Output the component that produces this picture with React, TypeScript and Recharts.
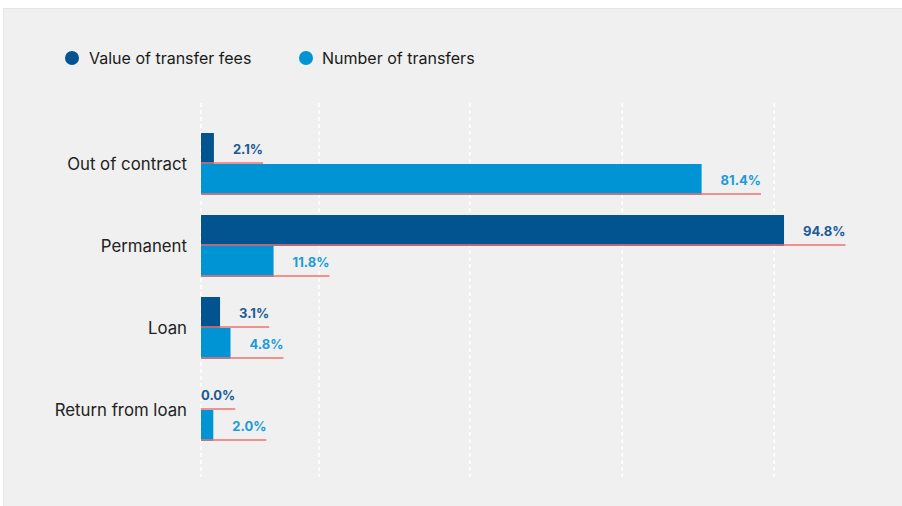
import React from 'react';
import { BarChart, Bar, XAxis, YAxis, CartesianGrid, Legend, LabelList } from 'recharts';

const categories = ['Out of contract', 'Permanent', 'Loan', 'Return from loan'];
const valueOfFees = [2.1, 94.8, 3.1, 0.0];
const numberOfTransfers = [81.4, 11.8, 4.8, 2.0];
const seriesNames = ['Value of transfer fees', 'Number of transfers'];
const gridTicks = [0, 19.2, 43.7, 68.5, 93.2];

const DARK = '#01548f';
const LIGHT = '#0094d4';
const DARK_TEXT = '#1b5a96';
const LIGHT_TEXT = '#1c9bd8';
const UNDERLINE = '#f07272';

const data = categories.map((name, i) => ({
  name,
  fees: valueOfFees[i],
  transfers: numberOfTransfers[i],
}));

const LABEL_FONT = '700 13px Inter';
let ctx: CanvasRenderingContext2D | null = null;
function textWidth(s: string): number {
  if (!ctx) ctx = document.createElement('canvas').getContext('2d');
  if (!ctx) return s.length * 7.5;
  ctx.font = LABEL_FONT;
  return ctx.measureText(s).width;
}

function makeLabel(color: string) {
  return (props: any) => {
    const { x, y, width, height, value } = props;
    const text = `${Number(value).toFixed(1)}%`;
    const w = Number(width) || 0;
    const tx = w > 1 ? x + w + 19 : x;
    const tw = textWidth(text);
    const ly = y + height - 1;
    return (
      <g>
        <line x1={x} x2={tx + tw} y1={ly} y2={ly} stroke={UNDERLINE} strokeWidth={2} strokeOpacity={0.75} />
        <text
          x={tx}
          y={y + height / 2}
          dominantBaseline="central"
          fill={color}
          style={{ font: LABEL_FONT }}
        >
          {text}
        </text>
      </g>
    );
  };
}

const renderLegend = () => {
  const colors = [DARK, LIGHT];
  const circleX = [69, 303];
  const textX = [86, 319];
  return (
    <div style={{ position: 'relative', width: 500, height: 30, fontFamily: 'Inter', fontSize: 16, color: '#1a1a1a' }}>
      {seriesNames.map((n, i) => (
        <React.Fragment key={n}>
          <span
            style={{
              position: 'absolute',
              left: circleX[i] - 7,
              top: 8,
              width: 14,
              height: 14,
              borderRadius: 7,
              background: colors[i],
            }}
          />
          <span style={{ position: 'absolute', left: textX[i], top: 0, lineHeight: '30px', whiteSpace: 'nowrap' }}>{n}</span>
        </React.Fragment>
      ))}
    </div>
  );
};

const gridGenerator = (props: any) => {
  const scale = props?.xAxis?.scale;
  if (typeof scale === 'function') return gridTicks.map((t) => scale(t));
  if (scale && typeof scale.map === 'function') return gridTicks.map((t) => scale.map(t));
  return [];
};

export default function App() {
  return (
    <div
      style={{
        position: 'absolute',
        left: 3,
        top: 8,
        width: 899,
        height: 498,
        background: '#eff0ef',
        boxShadow: 'inset 1px 1px 0 #e4e6e4',
      }}
    >
      <BarChart
        width={899}
        height={498}
        data={data}
        layout="vertical"
        margin={{ top: 65, right: 86, bottom: 29, left: 0 }}
        barGap={0}
        barSize={31}
      >
        <CartesianGrid
          horizontal={false}
          vertical
          stroke="#ffffff"
          strokeWidth={1.5}
          strokeDasharray="4 3"
          verticalCoordinatesGenerator={gridGenerator}
        />
        <XAxis type="number" domain={[0, 100]} ticks={gridTicks} hide />
        <YAxis
          type="category"
          dataKey="name"
          width={198}
          axisLine={false}
          tickLine={false}
          tickSize={0}
          tickMargin={14}
          padding={{ top: 20, bottom: 26 }}
          tick={{ fill: '#222222', fontSize: 16.8, fontFamily: 'Inter' }}
        />
        <Legend
          verticalAlign="top"
          align="left"
          content={renderLegend}
          wrapperStyle={{ position: 'absolute', top: 35, left: 0, width: 500, height: 30 }}
        />
        <Bar dataKey="fees" name={seriesNames[0]} fill={DARK} minPointSize={0.01} isAnimationActive={false}>
          <LabelList dataKey="fees" content={makeLabel(DARK_TEXT)} />
        </Bar>
        <Bar dataKey="transfers" name={seriesNames[1]} fill={LIGHT} isAnimationActive={false}>
          <LabelList dataKey="transfers" content={makeLabel(LIGHT_TEXT)} />
        </Bar>
      </BarChart>
    </div>
  );
}
